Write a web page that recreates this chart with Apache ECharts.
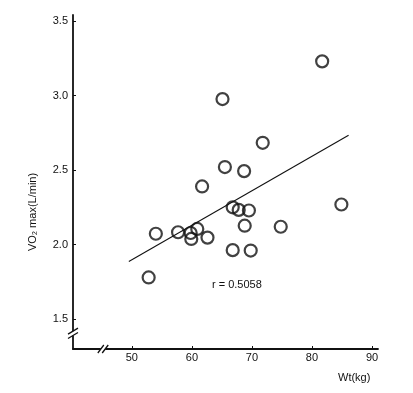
<!DOCTYPE html>
<html>
<head>
<meta charset="utf-8">
<script src="https://cdn.jsdelivr.net/npm/echarts@6/dist/echarts.min.js"></script>
<style>html,body{margin:0;padding:0;background:#fff}#c{width:413px;height:393px}</style>
</head>
<body>
<div id="c"></div>
<script>
// Data
const weightKg = [52.8, 54.0, 57.7, 59.8, 59.9, 60.9, 62.6, 61.7, 65.1, 65.5, 66.8, 66.8, 67.8, 68.7, 68.8, 69.5, 69.8, 71.8, 74.8, 81.7, 84.9];
const vo2max   = [1.78, 2.073, 2.083, 2.078, 2.038, 2.105, 2.047, 2.39, 2.976, 2.52, 2.25, 1.963, 2.233, 2.493, 2.127, 2.229, 1.96, 2.683, 2.12, 3.229, 2.269];
const fitX = [49.5, 86.1];
const fitY = [1.887, 2.733];
const xTicks = [50, 60, 70, 80, 90];
const yTicks = [1.5, 2.0, 2.5, 3.0, 3.5];
const xBreakAt = 45.2;   // value on x axis where "//" is drawn
const yBreakAt = 1.405;  // value on y axis where "//" is drawn
const rText = 'r = 0.5058';
const xName = 'Wt(kg)';
const yName = 'VO₂ max(L/min)';

const X_MIN = 40.2, X_MAX = 91, Y_MIN = 1.3, Y_MAX = 3.54;
const font = 'Liberation Sans, Arial, sans-serif';
const ink = '#111';

const chart = echarts.init(document.getElementById('c'), null, {renderer: 'canvas'});

const points = weightKg.map((w, i) => [w, vo2max[i]]);
const fitLine = fitX.map((x, i) => [x, fitY[i]]);

function breakMark(params, api) {
  const horiz = api.value(2) === 0;
  const p = api.coord([api.value(0), api.value(1)]);
  const children = [];
  const d = 2.2; // half-gap
  if (horiz) {
    children.push({type: 'rect', shape: {x: p[0] - d, y: p[1] - 2, width: 2 * d, height: 4}, style: {fill: '#fff'}});
    [-d, d].forEach(o => children.push({type: 'line', shape: {x1: p[0] + o - 3, y1: p[1] + 4, x2: p[0] + o + 3, y2: p[1] - 4}, style: {stroke: ink, lineWidth: 1.3}}));
  } else {
    children.push({type: 'rect', shape: {x: p[0] - 2, y: p[1] - d, width: 4, height: 2 * d}, style: {fill: '#fff'}});
    [-d, d].forEach(o => children.push({type: 'line', shape: {x1: p[0] - 5, y1: p[1] + o + 3, x2: p[0] + 5, y2: p[1] + o - 3}, style: {stroke: ink, lineWidth: 1.3}}));
  }
  return {type: 'group', children};
}

chart.setOption({
  animation: false,
  backgroundColor: '#fff',
  grid: {left: 73, right: 35, top: 15, bottom: 44, containLabel: false},
  xAxis: {
    type: 'value', min: X_MIN, max: X_MAX,
    axisLine: {lineStyle: {color: ink, width: 1.8}},
    axisTick: {show: true, inside: true, length: 3, customValues: xTicks, lineStyle: {color: ink, width: 1}},
    axisLabel: {customValues: xTicks, color: ink, fontSize: 11, fontFamily: font, margin: 3},
    splitLine: {show: false}
  },
  yAxis: {
    type: 'value', min: Y_MIN, max: Y_MAX,
    axisLine: {show: true, lineStyle: {color: ink, width: 1.8}},
    axisTick: {show: true, inside: true, length: 3, customValues: yTicks, lineStyle: {color: ink, width: 1}},
    axisLabel: {customValues: yTicks, color: ink, fontSize: 11, fontFamily: font, margin: 5, formatter: v => v.toFixed(1)},
    splitLine: {show: false}
  },
  graphic: [
    {type: 'text', left: 212, top: 279, style: {text: rText, fill: ink, font: '11px ' + font}},
    {type: 'text', left: 338, top: 372, style: {text: xName, fill: ink, font: '11px ' + font}},
    {type: 'text', x: 33, y: 212, rotation: Math.PI / 2, style: {text: yName, fill: ink, font: '11px ' + font, align: 'center', verticalAlign: 'middle'}}
  ],
  series: [
    {
      type: 'line', data: fitLine, showSymbol: false, symbol: 'none',
      lineStyle: {color: ink, width: 1.1}, silent: true, z: 2
    },
    {
      type: 'scatter', data: points, symbol: 'circle', symbolSize: 12,
      itemStyle: {color: 'rgba(255,255,255,0)', borderColor: ink, borderWidth: 2.2}, z: 3
    },
    {
      type: 'custom', renderItem: breakMark, clip: false, silent: true, z: 5,
      data: [[xBreakAt, Y_MIN, 0], [X_MIN, yBreakAt, 1]]
    }
  ]
});
</script>
</body>
</html>
